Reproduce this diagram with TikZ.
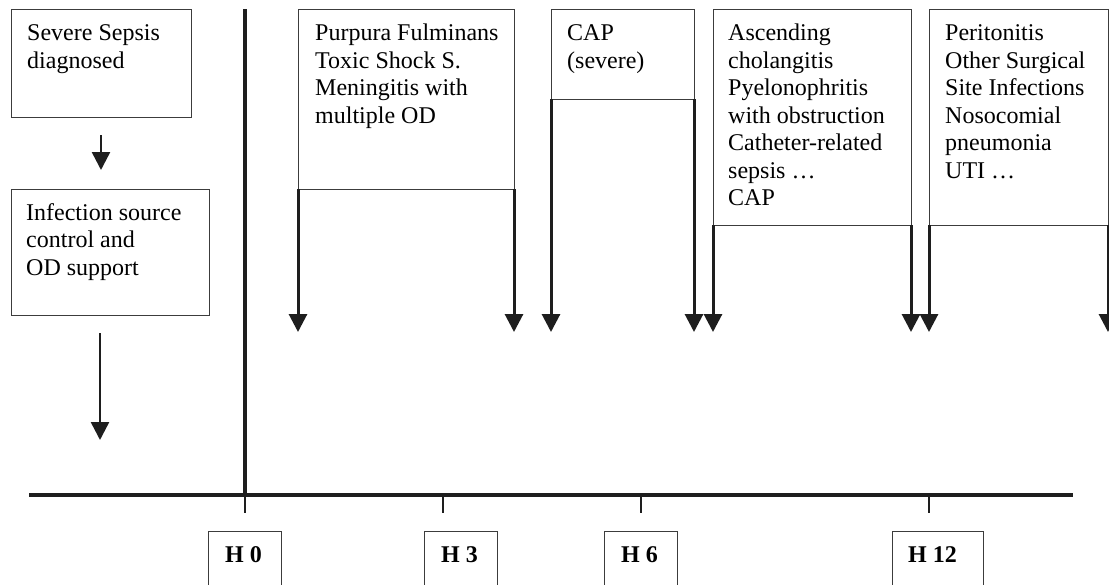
\documentclass[tikz,border=0pt]{standalone}
\usepackage{fontspec}
\setmainfont{Liberation Serif}
\usetikzlibrary{arrows.meta}
\definecolor{boxgray}{RGB}{60,60,60}
\definecolor{heavy}{RGB}{30,30,30}
\begin{document}
\begin{tikzpicture}[x=1pt,y=-1pt,
  box/.style={draw=boxgray,line width=1pt,inner sep=0pt,outer sep=0pt,anchor=north west},
  txt/.style={anchor=north west,inner sep=0pt,align=left,text=black,
              font=\fontsize{24}{27.5}\selectfont},
  hlab/.style={anchor=base west,inner sep=0pt,text=black,
               font=\fontsize{24}{27.5}\selectfont\bfseries},
  bigarr/.style={draw=heavy,line width=3pt,-{Triangle[length=18pt,width=18pt]}},
  smallarr/.style={draw=heavy,line width=2.5pt,-{Triangle[length=18pt,width=18pt]}},
  axisline/.style={draw=heavy,line width=4pt},
  vline/.style={draw=heavy,line width=3.5pt},
  tickline/.style={draw=heavy,line width=2.5pt}
]
\clip (0,0) rectangle (1109,584);
\fill[white] (0,0) rectangle (1109,584);

% left column
\node[box,minimum width=180pt,minimum height=108pt] (sev) at (11,9) {};
\node[txt] (sevt) at (27,22.5) {\rule{0pt}{18pt}Severe Sepsis\\diagnosed};
\node[box,minimum width=198pt,minimum height=126pt] (inf) at (11,189) {};
\node[txt] (inft) at (26,202) {\rule{0pt}{18pt}Infection source\\control and\\OD support};
\draw[smallarr] ([yshift=-18pt]sev.south) -- ([yshift=-53pt]sev.south);
\draw[smallarr] ([xshift=-10pt,yshift=-18pt]inf.south) -- ([xshift=-10pt,yshift=-125pt]inf.south);

% timeline
\coordinate (vtop) at (245,9);
\coordinate (axL) at (29,495);
\coordinate (axR) at (1073,495);
\coordinate (t0) at (245,495);  \coordinate (t0b) at (245,513);
\coordinate (t3) at (443,495);  \coordinate (t3b) at (443,513);
\coordinate (t6) at (641,495);  \coordinate (t6b) at (641,513);
\coordinate (t12) at (929,495); \coordinate (t12b) at (929,513);
\draw[vline] (vtop) -- (t0);
\draw[tickline] (t0) -- (t0b);
\draw[tickline] (t3) -- (t3b);
\draw[tickline] (t6) -- (t6b);
\draw[tickline] (t12) -- (t12b);
\draw[axisline] (axL) -- (axR);

% hour boxes
\node[box,minimum width=73pt,minimum height=80pt] (h0box) at (208,531) {};
\node[hlab] (h0) at (225,562) {H 0};
\node[box,minimum width=73pt,minimum height=80pt] (h3box) at (424,531) {};
\node[hlab] (h3) at (441,562) {H 3};
\node[box,minimum width=73pt,minimum height=80pt] (h6box) at (604,531) {};
\node[hlab] (h6) at (621,562) {H 6};
\node[box,minimum width=91pt,minimum height=80pt] (h12box) at (892,531) {};
\node[hlab] (h12) at (908,562) {H 12};

% infection groups
\node[box,minimum width=216pt,minimum height=180pt] (pf) at (298,9) {};
\node[txt] (pft) at (315,22.5) {\rule{0pt}{18pt}Purpura Fulminans\\Toxic Shock S.\\Meningitis with\\multiple OD};
\node[box,minimum width=143pt,minimum height=90pt] (cap) at (551,9) {};
\node[txt] (capt) at (567,22.5) {\rule{0pt}{18pt}CAP\\(severe)};
\node[box,minimum width=198pt,minimum height=216pt] (asc) at (713,9) {};
\node[txt] (asct) at (728,22.5) {\rule{0pt}{18pt}Ascending\\cholangitis\\Pyelonophritis\\with obstruction\\Catheter-related\\sepsis \dots\\CAP};
\node[box,minimum width=179pt,minimum height=216pt] (per) at (929,9) {};
\node[txt] (pert) at (945,22.5) {\rule{0pt}{18pt}Peritonitis\\Other Surgical\\Site Infections\\Nosocomial\\pneumonia\\UTI \dots};

\coordinate (pfL) at (298,332);  \coordinate (pfR) at (514,332);
\coordinate (capL) at (551,332); \coordinate (capR) at (694,332);
\coordinate (ascL) at (713,332); \coordinate (ascR) at (911,332);
\coordinate (perL) at (929,332); \coordinate (perR) at (1108,332);
\draw[bigarr] (pf.south west) -- (pfL);
\draw[bigarr] (pf.south east) -- (pfR);
\draw[bigarr] (cap.south west) -- (capL);
\draw[bigarr] (cap.south east) -- (capR);
\draw[bigarr] (asc.south west) -- (ascL);
\draw[bigarr] (asc.south east) -- (ascR);
\draw[bigarr] (per.south west) -- (perL);
\draw[bigarr] (per.south east) -- (perR);
\end{tikzpicture}
\end{document}
